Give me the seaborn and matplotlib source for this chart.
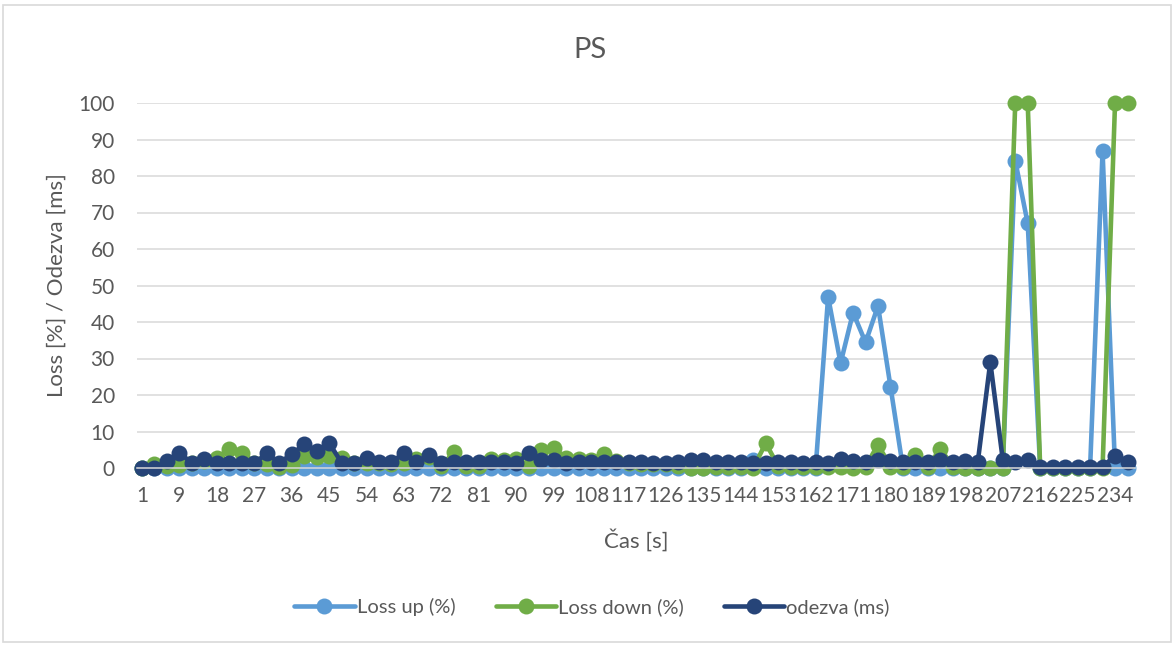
import numpy as np
import pandas as pd
import matplotlib.pyplot as plt
import seaborn as sns
from matplotlib.lines import Line2D
from matplotlib.patches import Rectangle

# casove znacky (kategorie osy x)
cas = [1, 3, 6, 9, 12, 15, 18, 21, 24, 27, 30, 33, 36, 39, 42, 45, 48, 51, 54, 57,
       60, 63, 66, 69, 72, 75, 78, 81, 84, 87, 90, 93, 96, 99, 102, 105, 108, 111, 114, 117,
       120, 123, 126, 129, 132, 135, 138, 141, 144, 147, 150, 153, 156, 159, 162, 165, 168, 171, 174, 177,
       180, 183, 186, 189, 192, 195, 198, 201, 204, 207, 210, 213, 216, 219, 222, 225, 228, 231, 234, 237]

loss_up = [0, 0, 0, 0, 0, 0, 0, 0, 0, 0, 0, 0, 0, 0, 0, 0, 0, 0, 0, 0,
           0, 0, 0, 0, 0, 0, 0, 0, 0, 0, 0, 0, 0, 0, 0, 0, 0, 0, 0, 0,
           0, 0, 0, 0, 0, 0, 0, 0, 0, 2.2, 0, 0, 0, 0, 0, 46.9, 28.7, 42.6, 34.4, 44.4,
           22.3, 0, 0, 0, 0, 0, 0, 0, 0, 0, 84.2, 67.0, 0, 0, 0, 0, 0, 86.8, 0, 0]

loss_down = [0, 1.2, 0.6, 0.8, 1.5, 2.0, 2.8, 5.2, 4.2, 1.5, 1.0, 0.3, 0.9, 3.2, 3.0, 3.2, 2.8, 1.5, 1.5, 1.5,
             1.0, 1.5, 2.5, 3.0, 0.5, 4.4, 0.5, 0.5, 2.5, 2.2, 2.5, 0.5, 4.9, 5.5, 2.7, 2.5, 2.2, 3.9, 2.0, 1.5,
             1.2, 1.2, 1.0, 0.5, 0, 0, 0.3, 0.3, 0.3, 0, 6.8, 0.5, 0.4, 0.4, 0.4, 0.4, 0.4, 0, 0.4, 6.4,
             0.4, 0.4, 3.5, 0.4, 5.3, 0.4, 0, 0, 0, 0, 100, 100, 0, 0, 0, 0, 0, 0, 100, 100]

odezva = [0, 0, 1.8, 4.0, 1.5, 2.4, 1.3, 1.3, 1.3, 1.3, 4.0, 1.5, 3.7, 6.5, 4.6, 6.8, 1.5, 1.4, 2.8, 1.7,
          1.7, 4.0, 1.6, 3.5, 1.5, 1.6, 1.7, 1.7, 1.7, 1.7, 1.3, 4.0, 2.2, 2.2, 1.3, 1.7, 1.7, 1.7, 1.7, 1.7,
          1.6, 1.5, 1.5, 1.6, 2.3, 2.3, 1.7, 1.7, 1.7, 1.5, 1.5, 1.6, 1.7, 1.3, 1.7, 1.3, 2.4, 2.0, 1.7, 2.3,
          2.0, 1.7, 1.7, 1.7, 2.3, 1.7, 2.0, 1.7, 29.0, 2.3, 1.6, 2.1, 0.2, 0.2, 0.2, 0.2, 0.2, 0.3, 3.4, 1.6]

serie = ["Loss up (%)", "Loss down (%)", "odezva (ms)"]
barvy = ["#5B9BD5", "#70AD47", "#264478"]
seda = "#595959"

df = pd.DataFrame({"poradi": np.arange(len(cas)), serie[0]: loss_up,
                   serie[1]: loss_down, serie[2]: odezva})
dlouha = df.melt(id_vars="poradi", value_vars=serie, var_name="serie", value_name="hodnota")

sns.set_theme(style="white")
plt.rcParams["font.family"] = ["Lato", "DejaVu Sans"]

W, H = 1176, 646
fig = plt.figure(figsize=(W / 100, H / 100), dpi=100)
ax = fig.add_axes([137 / W, 1 - 468 / H, (1135 - 137) / W, (468 - 103) / H])

sns.lineplot(data=dlouha, x="poradi", y="hodnota", hue="serie", hue_order=serie,
             palette=barvy, marker="o", markersize=11.5, markeredgewidth=0,
             linewidth=3.3, clip_on=False, legend=False, ax=ax)

ax.set_xlim(-0.4, 79.6)
ax.set_ylim(0, 100)
ax.set_yticks(range(0, 101, 10))
ax.set_xticks(range(0, len(cas), 3))
ax.set_xticklabels([str(c) for c in cas[::3]])
ax.tick_params(axis="both", length=0, labelsize=15, labelcolor=seda)
ax.tick_params(axis="y", pad=16)
ax.tick_params(axis="x", pad=13)
ax.grid(axis="y", color="#D9D9D9", linewidth=1.1)
ax.set_axisbelow(True)
for s in ["top", "right", "left"]:
    ax.spines[s].set_visible(False)
ax.spines["bottom"].set_color("#D9D9D9")
ax.spines["bottom"].set_linewidth(1.1)
ax.set_xlabel("")
ax.set_ylabel("")

fig.text(590 / W, 1 - 50 / H, "PS", ha="center", va="center", fontsize=21, color=seda)
fig.text(636 / W, 1 - 540 / H, "Čas [s]", ha="center", va="center", fontsize=16, color=seda)
fig.text(57 / W, 1 - 285 / H, "Loss [%] / Odezva [ms]", ha="center", va="center",
         rotation=90, fontsize=16, color=seda)

handles = [Line2D([0], [0], color=c, lw=3.3, marker="o", ms=11.5, mew=0) for c in barvy]
fig.legend(handles, serie, loc="center", bbox_to_anchor=(592 / W, 1 - 607 / H), ncol=3,
           frameon=False, fontsize=14.5, labelcolor=seda, handlelength=3.0,
           handletextpad=0.1, columnspacing=2.0)

fig.add_artist(Rectangle((3 / W, 4 / H), (W - 8) / W, (H - 9) / H, transform=fig.transFigure,
                         fill=False, edgecolor="#D9D9D9", linewidth=1.2))

fig.savefig("out.png", dpi=100)
plt.close(fig)
